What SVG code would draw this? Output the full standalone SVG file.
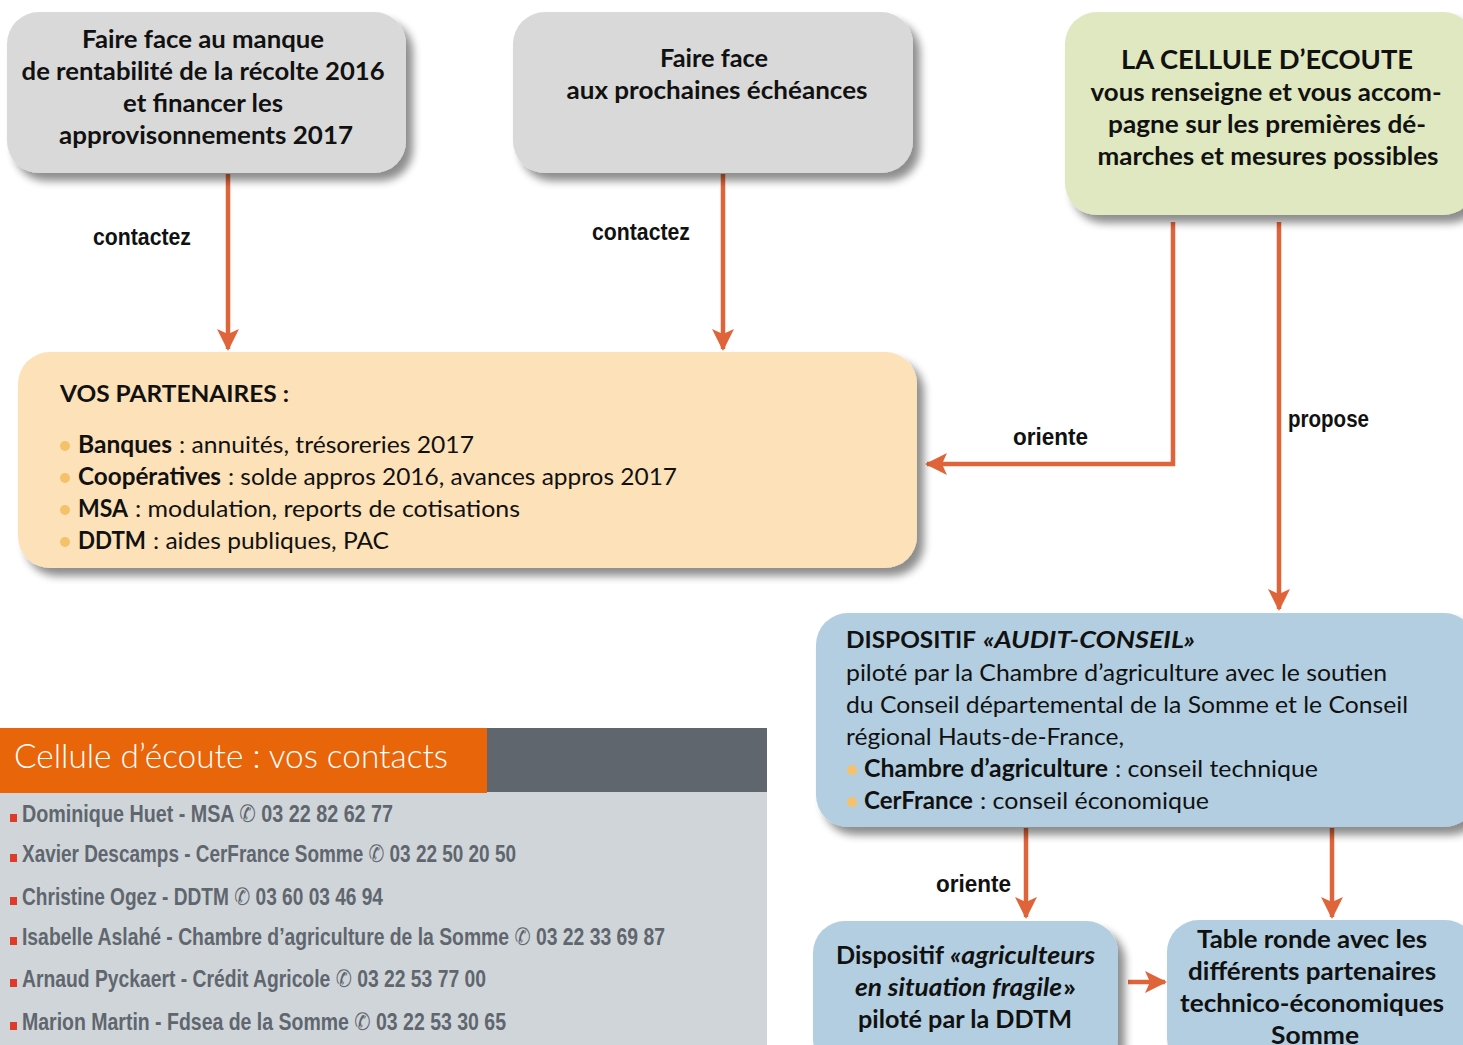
<svg xmlns="http://www.w3.org/2000/svg" width="1463" height="1045" viewBox="0 0 1463 1045">
<style>
.t{font-family:Lato,"Noto Sans","Liberation Sans",sans-serif;fill:#111;}
.b{font-weight:700;}
.i{font-style:italic;}
.c{font-family:"Liberation Sans Narrow","Liberation Sans",sans-serif;font-weight:700;fill:#111;}
.ct{font-family:"Liberation Sans Narrow","Liberation Sans","DejaVu Sans",sans-serif;font-weight:700;fill:#5f666e;font-size:24px;}
.bul{fill:#f5c26b;}
.line{stroke:#e0643a;stroke-width:4.5;fill:none;}
</style>
<defs>
<filter id="sh" x="-10%" y="-10%" width="130%" height="140%">
<feGaussianBlur in="SourceAlpha" stdDeviation="4"/>
<feOffset dx="7" dy="8" result="o"/>
<feComponentTransfer><feFuncA type="linear" slope="0.45"/></feComponentTransfer>
<feMerge><feMergeNode/><feMergeNode in="SourceGraphic"/></feMerge>
</filter>
<marker id="ah" markerWidth="22" markerHeight="24" refX="20" refY="11" orient="auto" markerUnits="userSpaceOnUse">
<path d="M0,0 L22,11 L0,22 L5,11 Z" fill="#e0643a"/>
</marker>
</defs>
<rect width="1463" height="1045" fill="#fff"/>

<g id="connectors">
<line class="line" x1="228" y1="174" x2="228" y2="349" marker-end="url(#ah)"/>
<line class="line" x1="723" y1="174" x2="723" y2="349" marker-end="url(#ah)"/>
<polyline class="line" points="1173,222 1173,464 927,464" marker-end="url(#ah)"/>
<line class="line" x1="1279" y1="222" x2="1279" y2="609" marker-end="url(#ah)"/>
<line class="line" x1="1026" y1="828" x2="1026" y2="917" marker-end="url(#ah)"/>
<line class="line" x1="1332" y1="828" x2="1332" y2="917" marker-end="url(#ah)"/>
<line class="line" x1="1128" y1="982" x2="1165" y2="982" marker-end="url(#ah)"/>
<text class="c" x="93" y="245" font-size="24" textLength="98" lengthAdjust="spacingAndGlyphs">contactez</text>
<text class="c" x="592" y="240" font-size="24" textLength="98" lengthAdjust="spacingAndGlyphs">contactez</text>
<text class="c" x="1013" y="445" font-size="24" textLength="75" lengthAdjust="spacingAndGlyphs">oriente</text>
<text class="c" x="1288" y="427" font-size="24" textLength="81" lengthAdjust="spacingAndGlyphs">propose</text>
<text class="c" x="936" y="892" font-size="24" textLength="75" lengthAdjust="spacingAndGlyphs">oriente</text>
</g>

<g id="box-manque">
<rect x="7" y="12" width="399" height="161" rx="32" fill="#d9d9d9" filter="url(#sh)"/>
<text class="t b" font-size="24" text-anchor="middle">
<tspan x="206" y="48" textLength="242" lengthAdjust="spacingAndGlyphs">Faire face au manque</tspan>
<tspan x="206" y="80" textLength="363" lengthAdjust="spacingAndGlyphs">de rentabilité de la récolte 2016</tspan>
<tspan x="206" y="112" textLength="160" lengthAdjust="spacingAndGlyphs">et financer les</tspan>
<tspan x="206" y="144" textLength="294" lengthAdjust="spacingAndGlyphs">approvisonnements 2017</tspan>
</text>
</g>

<g id="box-echeances">
<rect x="513" y="12" width="400" height="161" rx="32" fill="#d9d9d9" filter="url(#sh)"/>
<text class="t b" font-size="24" text-anchor="middle">
<tspan x="717" y="67" textLength="108" lengthAdjust="spacingAndGlyphs">Faire face</tspan>
<tspan x="717" y="99" textLength="301" lengthAdjust="spacingAndGlyphs">aux prochaines échéances</tspan>
</text>
</g>

<g id="box-cellule">
<rect x="1065" y="12" width="410" height="203" rx="32" fill="#dfe8c0" filter="url(#sh)"/>
<text class="t b" text-anchor="middle">
<tspan x="1269" y="69" font-size="27" textLength="292" lengthAdjust="spacingAndGlyphs">LA CELLULE D’ECOUTE</tspan>
<tspan x="1268" y="101" font-size="24" textLength="351" lengthAdjust="spacingAndGlyphs">vous renseigne et vous accom-</tspan>
<tspan x="1269" y="133" font-size="24" textLength="318" lengthAdjust="spacingAndGlyphs">pagne sur les premières dé-</tspan>
<tspan x="1268" y="165" font-size="24" textLength="341" lengthAdjust="spacingAndGlyphs">marches et mesures possibles</tspan>
</text>
</g>

<g id="box-partenaires">
<rect x="18" y="352" width="899" height="216" rx="32" fill="#fde1b8" filter="url(#sh)"/>
<text class="t b" x="60" y="402" font-size="23" textLength="229" lengthAdjust="spacingAndGlyphs">VOS PARTENAIRES :</text>
<circle class="bul" cx="65" cy="446" r="5"/>
<circle class="bul" cx="65" cy="478" r="5"/>
<circle class="bul" cx="65" cy="510" r="5"/>
<circle class="bul" cx="65" cy="542" r="5"/>
<text class="t b" x="78" y="453" font-size="24" textLength="94" lengthAdjust="spacingAndGlyphs">Banques</text>
<text class="t" x="179" y="453" font-size="24" textLength="295" lengthAdjust="spacingAndGlyphs">: annuités, trésoreries 2017</text>
<text class="t b" x="78" y="485" font-size="24" textLength="143" lengthAdjust="spacingAndGlyphs">Coopératives</text>
<text class="t" x="228" y="485" font-size="24" textLength="449" lengthAdjust="spacingAndGlyphs">: solde appros 2016, avances appros 2017</text>
<text class="t b" x="78" y="517" font-size="24" textLength="50" lengthAdjust="spacingAndGlyphs">MSA</text>
<text class="t" x="135" y="517" font-size="24" textLength="385" lengthAdjust="spacingAndGlyphs">: modulation, reports de cotisations</text>
<text class="t b" x="78" y="549" font-size="24" textLength="68" lengthAdjust="spacingAndGlyphs">DDTM</text>
<text class="t" x="153" y="549" font-size="24" textLength="236" lengthAdjust="spacingAndGlyphs">: aides publiques, PAC</text>
</g>

<g id="box-audit">
<rect x="816" y="613" width="660" height="214" rx="32" fill="#b2cee0" filter="url(#sh)"/>
<text class="t b" x="846" y="648" font-size="23" textLength="130" lengthAdjust="spacingAndGlyphs">DISPOSITIF</text>
<text class="t b i" x="983" y="648" font-size="23" textLength="212" lengthAdjust="spacingAndGlyphs">«AUDIT-CONSEIL»</text>
<text class="t" x="846" y="681" font-size="24" textLength="541" lengthAdjust="spacingAndGlyphs">piloté par la Chambre d’agriculture avec le soutien</text>
<text class="t" x="846" y="713" font-size="24" textLength="562" lengthAdjust="spacingAndGlyphs">du Conseil départemental de la Somme et le Conseil</text>
<text class="t" x="846" y="745" font-size="24" textLength="278" lengthAdjust="spacingAndGlyphs">régional Hauts-de-France,</text>
<circle class="bul" cx="852" cy="770" r="5"/>
<circle class="bul" cx="852" cy="802" r="5"/>
<text class="t b" x="864" y="777" font-size="24" textLength="244" lengthAdjust="spacingAndGlyphs">Chambre d’agriculture</text>
<text class="t" x="1115" y="777" font-size="24" textLength="203" lengthAdjust="spacingAndGlyphs">: conseil technique</text>
<text class="t b" x="864" y="809" font-size="24" textLength="109" lengthAdjust="spacingAndGlyphs">CerFrance</text>
<text class="t" x="980" y="809" font-size="24" textLength="229" lengthAdjust="spacingAndGlyphs">: conseil économique</text>
</g>

<g id="box-fragile">
<rect x="813" y="921" width="305" height="150" rx="32" fill="#b2cee0" filter="url(#sh)"/>
<text class="t b" x="836" y="964" font-size="24" textLength="108" lengthAdjust="spacingAndGlyphs">Dispositif</text>
<text class="t b i" x="950" y="964" font-size="24" textLength="145" lengthAdjust="spacingAndGlyphs">«agriculteurs</text>
<text class="t b i" x="855" y="996" font-size="24" textLength="207" lengthAdjust="spacingAndGlyphs">en situation fragile</text>
<text class="t b" x="1063" y="996" font-size="24" textLength="13" lengthAdjust="spacingAndGlyphs">»</text>
<text class="t b" x="965" y="1028" font-size="24" text-anchor="middle" textLength="214" lengthAdjust="spacingAndGlyphs">piloté par la DDTM</text>
</g>

<g id="box-table-ronde">
<rect x="1167" y="920" width="310" height="150" rx="32" fill="#b2cee0" filter="url(#sh)"/>
<text class="t b" font-size="24" text-anchor="middle">
<tspan x="1315" y="948" textLength="230" lengthAdjust="spacingAndGlyphs">Table ronde avec les</tspan>
<tspan x="1315" y="980" textLength="248" lengthAdjust="spacingAndGlyphs">différents partenaires</tspan>
<tspan x="1315" y="1012" textLength="264" lengthAdjust="spacingAndGlyphs">technico-économiques</tspan>
<tspan x="1315" y="1044" textLength="88" lengthAdjust="spacingAndGlyphs">Somme</tspan>
</text>
</g>

<g id="contacts">
<rect x="0" y="792" width="767" height="253" fill="#d0d5da"/>
<rect x="487" y="728" width="280" height="64" fill="#5f666e"/>
<rect x="0" y="728" width="487" height="65" fill="#e8650a"/>
<text x="14" y="768" font-family="Lato,'Noto Sans',sans-serif" font-weight="300" font-size="34" fill="#fff" textLength="434" lengthAdjust="spacingAndGlyphs">Cellule d’écoute : vos contacts</text>
<g fill="#e03a2a">
<rect x="10" y="814" width="7" height="8"/>
<rect x="10" y="854" width="7" height="8"/>
<rect x="10" y="897" width="7" height="8"/>
<rect x="10" y="937" width="7" height="8"/>
<rect x="10" y="979" width="7" height="8"/>
<rect x="10" y="1022" width="7" height="8"/>
</g>
<text class="ct" x="22" y="822" textLength="371" lengthAdjust="spacingAndGlyphs">Dominique Huet - MSA ✆  03 22 82 62 77</text>
<text class="ct" x="22" y="862" textLength="494" lengthAdjust="spacingAndGlyphs">Xavier Descamps - CerFrance Somme ✆ 03 22 50 20 50</text>
<text class="ct" x="22" y="905" textLength="361" lengthAdjust="spacingAndGlyphs">Christine Ogez - DDTM ✆ 03 60 03 46 94</text>
<text class="ct" x="22" y="945" textLength="643" lengthAdjust="spacingAndGlyphs">Isabelle Aslahé - Chambre d’agriculture de la Somme ✆ 03 22 33 69 87</text>
<text class="ct" x="22" y="987" textLength="464" lengthAdjust="spacingAndGlyphs">Arnaud Pyckaert - Crédit Agricole ✆ 03 22 53 77 00</text>
<text class="ct" x="22" y="1030" textLength="484" lengthAdjust="spacingAndGlyphs">Marion Martin - Fdsea de la Somme ✆ 03 22 53 30 65</text>
</g>
</svg>
